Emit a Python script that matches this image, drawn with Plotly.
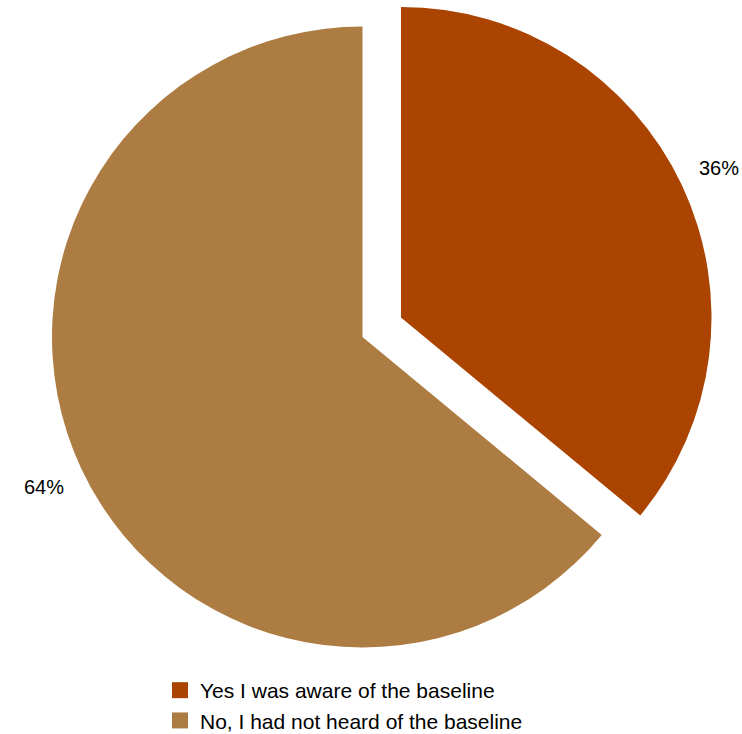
import math
import plotly.graph_objects as go

# Survey answers and their shares
labels = ["Yes I was aware of the baseline", "No, I had not heard of the baseline"]
values = [36, 64]
colors = ["#AA4400", "#AD7C43"]

W, H = 742, 734
R = 310.5  # pie radius in pixels
LABEL_GAP = 41  # distance of the percentage labels beyond the rim, pixels
FONT = "Liberation Sans, Arial, sans-serif"

# pixel centres: the exploded first slice and the main body
centers = [(401, 317.5), (362.5, 337)]


def domain(cx, cy, r):
    """Square paper domain for a pie of radius r centred at pixel (cx, cy)."""
    return dict(
        x=[(cx - r) / W, (cx + r) / W],
        y=[1 - (cy + r) / H, 1 - (cy - r) / H],
    )


fig = go.Figure()

total = sum(values)
start = 0.0
for i, (val, (cx, cy)) in enumerate(zip(values, centers)):
    # each trace shows only slice i; the other slice is left transparent
    slice_colors = [colors[k] if k == i else "rgba(0,0,0,0)" for k in range(len(values))]
    fig.add_trace(go.Pie(
        labels=labels,
        values=values,
        sort=False,
        direction="clockwise",
        rotation=0,
        marker=dict(colors=slice_colors, line=dict(width=0)),
        textinfo="none",
        domain=domain(cx, cy, R),
        showlegend=False,
        hoverinfo="label+percent",
    ))

    # percentage label placed along the slice bisector, outside the rim
    frac = val / total
    mid = 2 * math.pi * (start + frac / 2)  # clockwise from 12 o'clock
    start += frac
    lx = cx + (R + LABEL_GAP) * math.sin(mid)
    ly = cy - (R + LABEL_GAP) * math.cos(mid)
    fig.add_annotation(
        x=lx / W, y=1 - ly / H, xref="paper", yref="paper",
        text=f"{frac:.0%}", showarrow=False,
        xanchor="center", yanchor="middle",
        font=dict(family=FONT, size=20, color="#000000"),
    )

# Legend entries
for lab, col in zip(labels, colors):
    fig.add_trace(go.Scatter(
        x=[None], y=[None], mode="markers", name=lab,
        marker=dict(symbol="square", size=16, color=col),
        showlegend=True, hoverinfo="skip",
    ))

fig.update_layout(
    width=W,
    height=H,
    margin=dict(l=0, r=0, t=0, b=0, autoexpand=False),
    paper_bgcolor="white",
    plot_bgcolor="white",
    xaxis=dict(visible=False),
    yaxis=dict(visible=False),
    font=dict(family=FONT, color="#000000"),
    legend=dict(
        x=160 / W, xanchor="left",
        y=1 - 670 / H, yanchor="top",
        font=dict(size=21, color="#000000"),
        bgcolor="rgba(0,0,0,0)",
        borderwidth=0,
        tracegroupgap=0,
        itemsizing="trace",
    ),
)

fig.write_html("out.html")
